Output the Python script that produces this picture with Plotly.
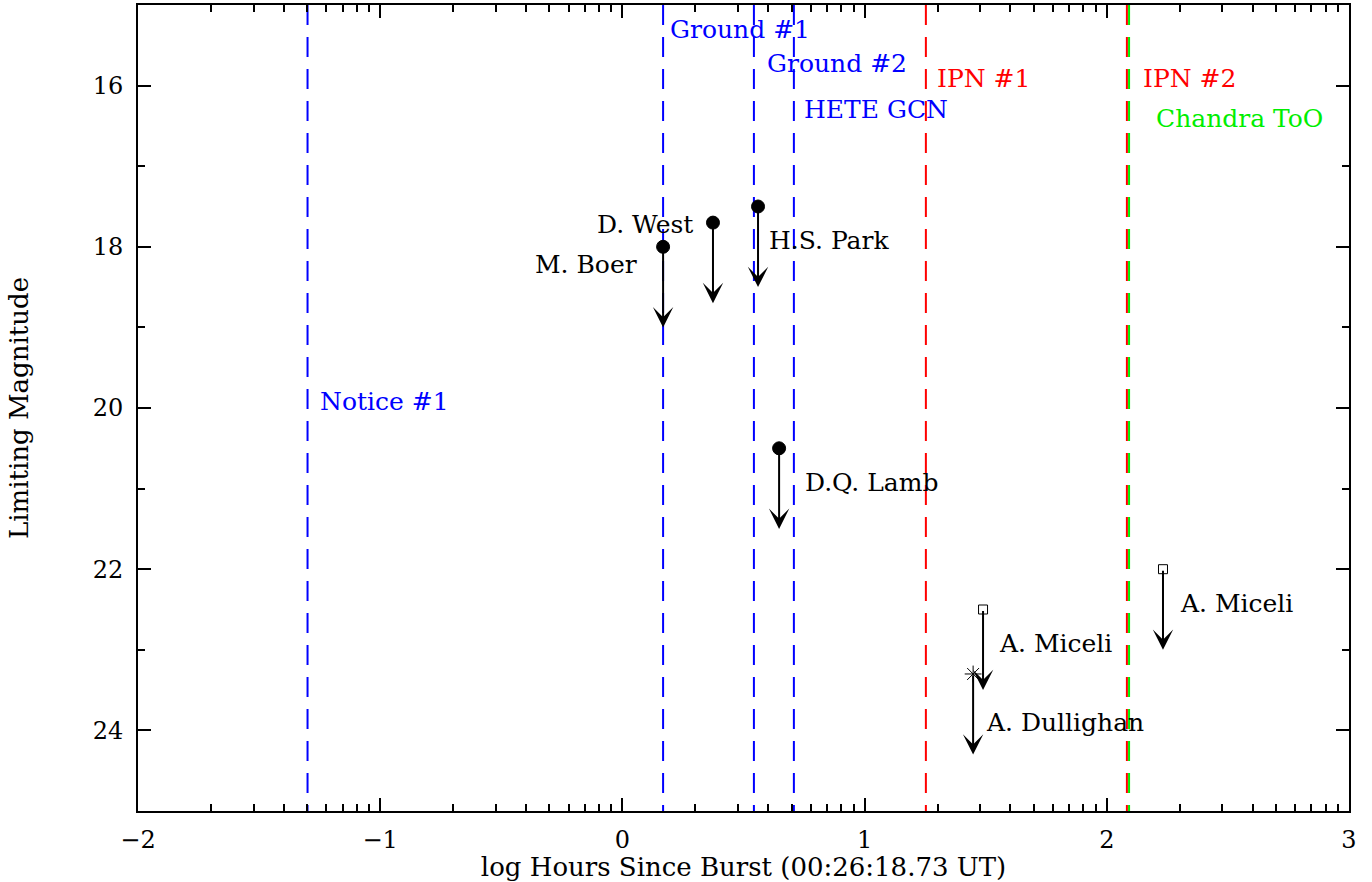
import plotly.graph_objects as go
import numpy as np

# Vertical event lines (log hours since burst)
event_names = ["Notice #1", "Ground #1", "Ground #2", "HETE GCN", "IPN #1", "IPN #2", "Chandra ToO"]
event_x = [-1.30, 0.168, 0.543, 0.708, 1.253, 2.083, 2.092]
event_colors = ["blue", "blue", "blue", "blue", "red", "red", "#00ee00"]
event_label_x = [-1.255, 0.19, 0.59, 0.74, 1.29, 2.14, 2.195]
event_label_y = [19.92, 15.31, 15.72, 16.3, 15.91, 15.91, 16.41]

# Limiting magnitude observations
obs_names = ["M. Boer", "D. West", "H.S. Park", "D.Q. Lamb", "A. Miceli", "A. Dullighan", "A. Miceli"]
obs_x = [0.168, 0.374, 0.560, 0.647, 1.489, 1.448, 2.232]
obs_mag = [18.0, 17.7, 17.5, 20.5, 22.5, 23.3, 22.0]
obs_symbol = ["circle", "circle", "circle", "circle", "square-open", "asterisk-open", "square-open"]
obs_label_x = [0.07, 0.30, 0.595, 0.745, 1.545, 1.495, 2.295]
obs_label_y = [18.22, 17.72, 17.92, 20.92, 22.92, 23.9, 22.42]
obs_label_anchor = ["right", "right", "left", "left", "left", "left", "left"]
arrow_len = 1.0

FONT = "DejaVu Serif"
fig = go.Figure()

for name, x, c in zip(event_names, event_x, event_colors):
    fig.add_trace(go.Scatter(x=[x, x], y=[15, 25], mode="lines",
                             line=dict(color=c, width=2, dash="20px,12px"),
                             showlegend=False, hoverinfo="skip"))

for name, x, y, c in zip(event_names, event_label_x, event_label_y, event_colors):
    fig.add_annotation(x=x, y=y, text=name, showarrow=False, xanchor="left",
                       yanchor="middle", font=dict(family=FONT, size=25, color=c))

sizes = {"circle": 13, "square-open": 9, "asterisk-open": 14}
for x, y, s in zip(obs_x, obs_mag, obs_symbol):
    fig.add_trace(go.Scatter(x=[x], y=[y], mode="markers",
                             marker=dict(symbol=s, size=sizes[s], color="black",
                                         line=dict(color="black", width=1)),
                             showlegend=False, hoverinfo="skip"))
    fig.add_annotation(x=x, y=y + arrow_len, ax=x, ay=y, axref="x", ayref="y",
                       xref="x", yref="y", text="", showarrow=True,
                       arrowhead=3, arrowsize=1.7, arrowwidth=2, arrowcolor="black")

for name, x, y, a in zip(obs_names, obs_label_x, obs_label_y, obs_label_anchor):
    fig.add_annotation(x=x, y=y, text=name, showarrow=False, xanchor=a,
                       yanchor="middle", font=dict(family=FONT, size=25, color="black"))

minor_x = [d + np.log10(k) for d in range(-2, 3) for k in range(2, 10)]

fig.update_layout(
    width=1372, height=882,
    margin=dict(l=138, r=23, t=5, b=71),
    plot_bgcolor="white", paper_bgcolor="white",
    font=dict(family=FONT, size=24, color="black"),
)
fig.update_xaxes(range=[-2, 3], tickvals=[-2, -1, 0, 1, 2, 3],
                 ticktext=["\u22122", "\u22121", "0", "1", "2", "3"],
                 ticks="inside", ticklen=13, tickwidth=2, tickcolor="black",
                 minor=dict(tickvals=minor_x, ticks="inside", ticklen=7, tickwidth=1.5, tickcolor="black"),
                 showline=True, linecolor="black", linewidth=2, mirror="ticks",
                 showgrid=False, zeroline=False, ticklabelstandoff=6,
                 title=dict(text="log Hours Since Burst (00:26:18.73 UT)", standoff=2,
                            font=dict(family=FONT, size=26)),
                 tickfont=dict(family=FONT, size=24), automargin=False)
fig.update_yaxes(range=[25, 15], tickvals=[16, 18, 20, 22, 24],
                 ticks="inside", ticklen=13, tickwidth=2, tickcolor="black",
                 minor=dict(tickvals=[15, 17, 19, 21, 23, 25], ticks="inside", ticklen=7, tickwidth=1.5, tickcolor="black"),
                 showline=True, linecolor="black", linewidth=2, mirror="ticks",
                 showgrid=False, zeroline=False, ticklabelstandoff=8,
                 title=dict(text="Limiting Magnitude", standoff=57,
                            font=dict(family=FONT, size=26)),
                 tickfont=dict(family=FONT, size=24), automargin=False)

fig.write_html("out.html", config={"displayModeBar": False},
               post_script="document.body.style.margin='0px';")
